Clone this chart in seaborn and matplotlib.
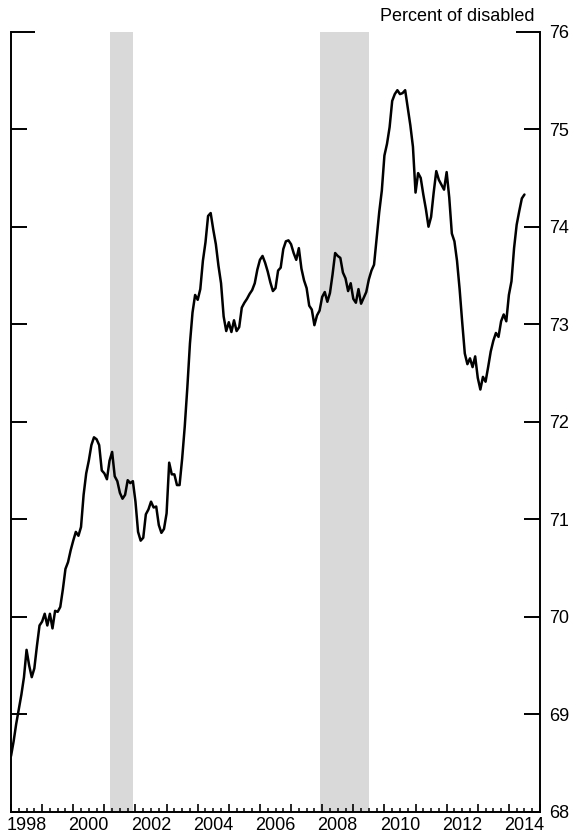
import numpy as np
import pandas as pd
import matplotlib
matplotlib.use("Agg")
import matplotlib.pyplot as plt
import seaborn as sns

# monthly values, Jan 1998 - Jul 2014 (percent of disabled)
values_1998 = [68.57, 68.72, 68.90, 69.05, 69.20, 69.38, 69.66, 69.50, 69.38, 69.47, 69.70, 69.91]
values_1999 = [69.95, 70.03, 69.91, 70.03, 69.88, 70.06, 70.05, 70.10, 70.28, 70.49, 70.56, 70.68]
values_2000 = [70.78, 70.87, 70.83, 70.92, 71.25, 71.47, 71.60, 71.76, 71.84, 71.82, 71.76, 71.50]
values_2001 = [71.47, 71.41, 71.60, 71.69, 71.44, 71.39, 71.27, 71.21, 71.25, 71.40, 71.37, 71.39]
values_2002 = [71.18, 70.87, 70.78, 70.81, 71.05, 71.10, 71.18, 71.12, 71.13, 70.94, 70.86, 70.90]
values_2003 = [71.06, 71.58, 71.46, 71.46, 71.35, 71.35, 71.62, 71.95, 72.35, 72.80, 73.12, 73.30]
values_2004 = [73.25, 73.36, 73.65, 73.84, 74.11, 74.14, 73.97, 73.82, 73.60, 73.42, 73.08, 72.93]
values_2005 = [73.02, 72.92, 73.04, 72.93, 72.97, 73.17, 73.22, 73.26, 73.31, 73.35, 73.42, 73.56]
values_2006 = [73.66, 73.70, 73.63, 73.54, 73.43, 73.34, 73.37, 73.55, 73.58, 73.77, 73.85, 73.86]
values_2007 = [73.82, 73.73, 73.66, 73.78, 73.57, 73.45, 73.37, 73.19, 73.15, 72.99, 73.09, 73.14]
values_2008 = [73.28, 73.33, 73.23, 73.32, 73.51, 73.73, 73.70, 73.68, 73.53, 73.47, 73.34, 73.42]
values_2009 = [73.26, 73.22, 73.36, 73.21, 73.27, 73.33, 73.46, 73.55, 73.61, 73.88, 74.15, 74.37]
values_2010 = [74.73, 74.85, 75.02, 75.29, 75.36, 75.40, 75.36, 75.37, 75.40, 75.22, 75.04, 74.82]
values_2011 = [74.35, 74.55, 74.50, 74.33, 74.18, 74.00, 74.10, 74.35, 74.57, 74.48, 74.43, 74.38]
values_2012 = [74.56, 74.30, 73.93, 73.85, 73.65, 73.36, 73.02, 72.70, 72.59, 72.65, 72.56, 72.67]
values_2013 = [72.45, 72.33, 72.46, 72.41, 72.56, 72.72, 72.83, 72.91, 72.87, 73.03, 73.10, 73.03]
values_2014 = [73.30, 73.44, 73.78, 74.02, 74.16, 74.29, 74.33]

recession_start = ["2001-03", "2007-12"]
recession_end = ["2001-11", "2009-06"]

year_labels = ["1998", "2000", "2002", "2004", "2006", "2008", "2010", "2012", "2014"]
y_ticks = [68, 69, 70, 71, 72, 73, 74, 75, 76]

values = (values_1998 + values_1999 + values_2000 + values_2001 + values_2002 + values_2003
          + values_2004 + values_2005 + values_2006 + values_2007 + values_2008 + values_2009
          + values_2010 + values_2011 + values_2012 + values_2013 + values_2014)
dates = pd.date_range("1998-01-01", periods=len(values), freq="MS")


def dec_year(d):
    return d.year + (d.month - 1) / 12


df = pd.DataFrame({"t": [dec_year(d) for d in dates], "value": values})

sns.set_style("white")
plt.rcParams["font.family"] = ["Liberation Sans", "DejaVu Sans"]
plt.rcParams["text.color"] = "black"
plt.rcParams["xtick.color"] = "black"
plt.rcParams["ytick.color"] = "black"

fig = plt.figure(figsize=(5.75, 8.36), dpi=100)
ax = fig.add_axes([11 / 575, 1 - 811.7 / 836, 529 / 575, 780 / 836])

# recession shading
for s, e in zip(recession_start, recession_end):
    s = pd.Timestamp(s)
    e = pd.Timestamp(e)
    ax.axvspan(dec_year(s), dec_year(e) + 1 / 12, color="#d9d9d9", lw=0, zorder=0)

sns.lineplot(data=df, x="t", y="value", color="black", linewidth=1.8, ax=ax, zorder=3)

ax.set_xlim(1998, 2015)
ax.set_ylim(68, 76)
ax.set_xlabel("")
ax.set_ylabel("")

for side in ["left", "right", "bottom"]:
    ax.spines[side].set_visible(True)
    ax.spines[side].set_linewidth(1.4)
    ax.spines[side].set_color("black")
ax.spines["top"].set_visible(False)

# x axis: year ticks long, quarterly ticks short, labels centred on even years
ax.set_xticks(np.arange(1998, 2016))
ax.set_xticks(np.arange(1998, 2015, 0.25), minor=True)
ax.tick_params(axis="x", which="major", direction="in", length=6, width=1.2,
               color="black", bottom=True, labelbottom=False)
ax.tick_params(axis="x", which="minor", direction="in", length=2.8, width=1.1,
               color="black", bottom=True)

sec = ax.secondary_xaxis("bottom")
sec.set_xticks([int(y) + 0.5 for y in year_labels], year_labels)
sec.tick_params(length=0, pad=4, labelsize=13, labelcolor="black")
sec.spines["bottom"].set_visible(False)

# y axis: ticks on both sides pointing in, labels on the right
ax.set_yticks(y_ticks)
ax.tick_params(axis="y", which="major", direction="in", length=11.5, width=1.4,
               color="black", left=True, right=True, labelleft=False, labelright=True,
               labelsize=13, labelcolor="black", pad=6.5)
top_tick = ax.yaxis.get_major_ticks()[-1]
top_tick.tick1line.set_markersize(17)
top_tick.tick2line.set_markersize(17)

ax.text(0.9905, 1.0195, "Percent of disabled", transform=ax.transAxes,
        ha="right", va="center", fontsize=13, color="black")

fig.savefig("out.png", dpi=100)
